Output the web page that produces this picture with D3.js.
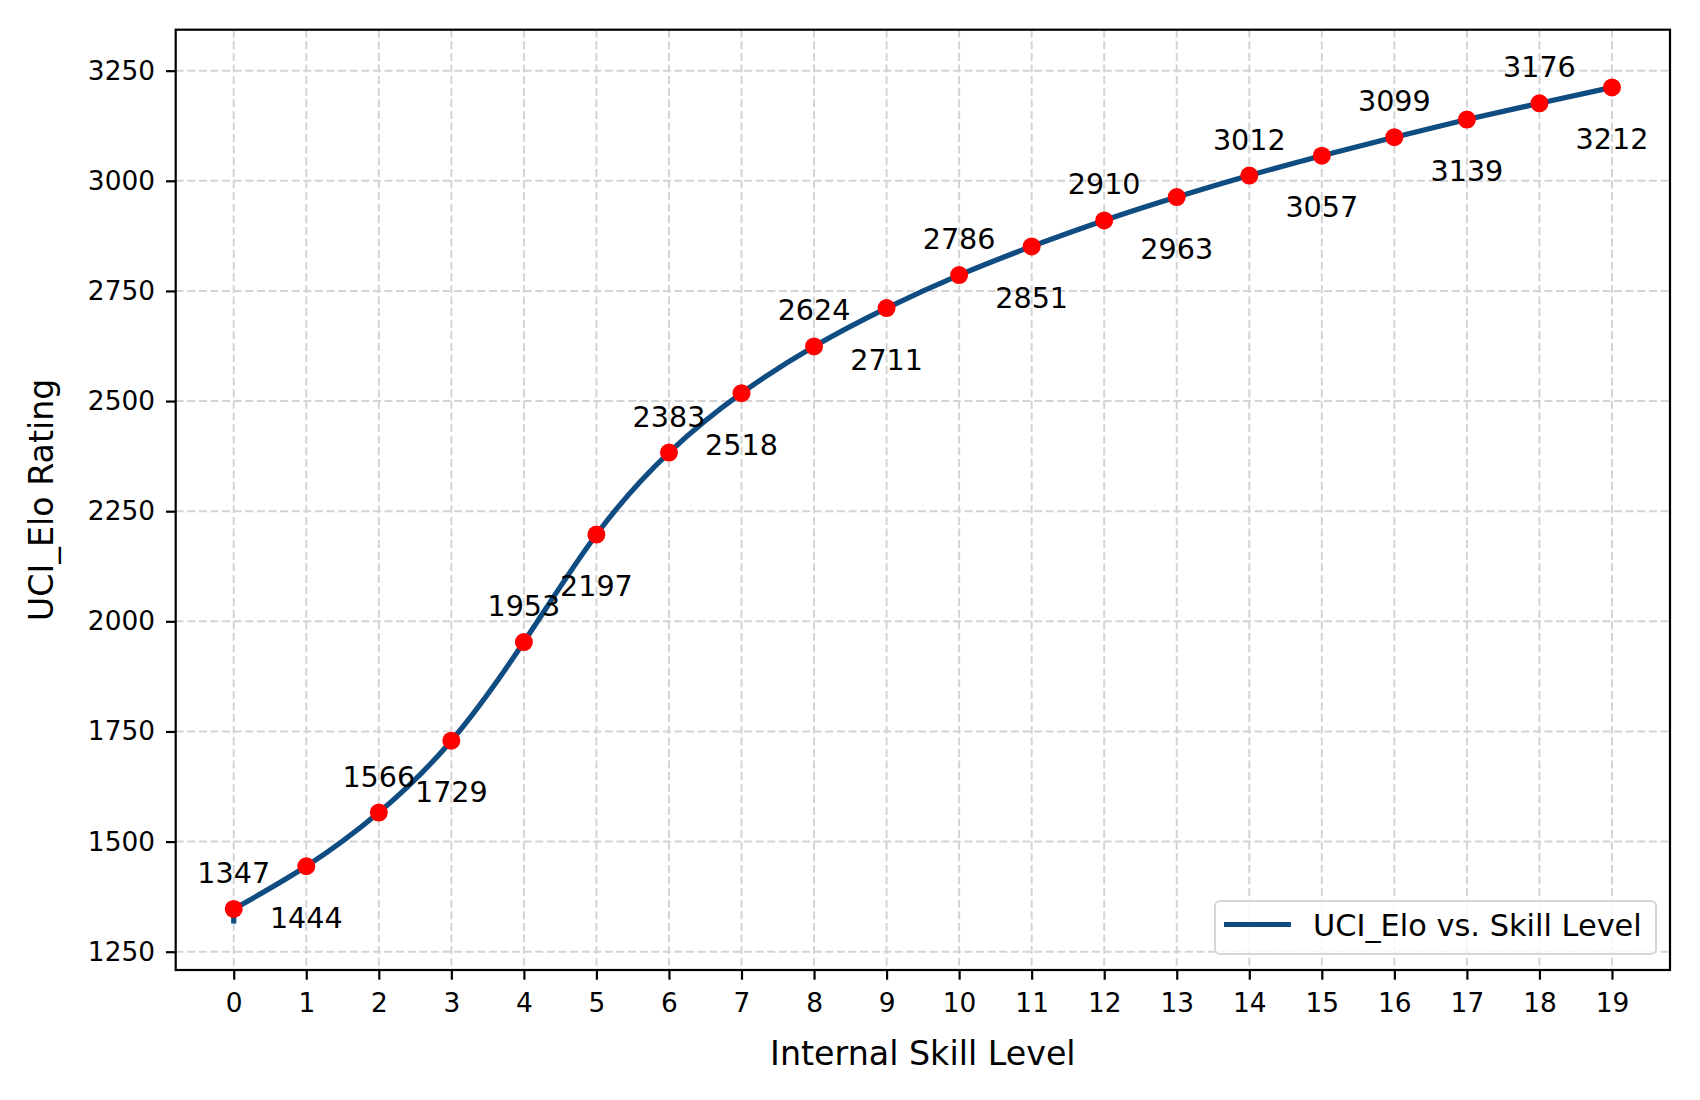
<!DOCTYPE html>
<html>
<head>
<meta charset="utf-8">
<script src="https://cdn.jsdelivr.net/npm/d3@7"></script>
<style>
    body { margin: 0; background: #fff; }
    svg { display: block; font-family: "DejaVu Sans", sans-serif; }
</style>
</head>
<body>
<svg id="chart"></svg>
<script>
// chart data
const skillLevels = d3.range(0, 20);
const eloValues = [1347, 1444, 1566, 1729, 1953, 2197, 2383, 2518, 2624, 2711,
                   2786, 2851, 2910, 2963, 3012, 3057, 3099, 3139, 3176, 3212];
// the drawn curve dips a little below the first point at level 0
const curveTail = [1314, 1347];
const yTicks = [1250, 1500, 1750, 2000, 2250, 2500, 2750, 3000, 3250];
const legendLabel = "UCI_Elo vs. Skill Level";

const W = 1700, H = 1100;
const plot = { left: 175.7, top: 29.7, right: 1670, bottom: 970 };
const colors = { line: "#0f4c81", point: "#ff0000", grid: "#d4d4d4", axis: "#000" };

const svg = d3.select("#chart").attr("width", W).attr("height", H);

const x = d3.scaleLinear().domain([-0.8, 19.8]).range([plot.left, plot.right]);
const y = d3.scaleLinear().domain([1208.5, 3343]).range([plot.bottom, plot.top]);

// grid
const grid = svg.append("g").attr("class", "grid")
    .attr("stroke", colors.grid).attr("stroke-width", 2).attr("stroke-dasharray", "8,3.6");
grid.selectAll(".gx").data(skillLevels).enter().append("line")
    .attr("x1", d => x(d)).attr("x2", d => x(d)).attr("y1", plot.top).attr("y2", plot.bottom);
grid.selectAll(".gy").data(yTicks).enter().append("line")
    .attr("x1", plot.left).attr("x2", plot.right).attr("y1", d => y(d)).attr("y2", d => y(d));

// axes
const xAxis = svg.append("g").attr("transform", `translate(0,${plot.bottom})`)
    .call(d3.axisBottom(x).tickValues(skillLevels).tickFormat(d3.format("d")).tickSizeOuter(0).tickSize(9.7).tickPadding(13.5));
const yAxis = svg.append("g").attr("transform", `translate(${plot.left},0)`)
    .call(d3.axisLeft(y).tickValues(yTicks).tickFormat(d3.format("d")).tickSizeOuter(0).tickSize(9.7).tickPadding(11));
[xAxis, yAxis].forEach(a => {
    a.select(".domain").remove();
    a.selectAll(".tick line").attr("stroke", colors.axis).attr("stroke-width", 2.2);
    a.selectAll(".tick text").attr("fill", colors.axis).style("font-size", "26.4px").style("font-family", "DejaVu Sans");
});

// curve
const line = d3.line().x((d, i) => x(skillLevels[i])).y(d => y(d)).curve(d3.curveNatural);
svg.append("path").datum(curveTail)
    .attr("d", d3.line().x(() => x(skillLevels[0])).y(d => y(d)))
    .attr("stroke", colors.line).attr("stroke-width", 5.2).attr("fill", "none");
svg.append("path").datum(eloValues).attr("d", line)
    .attr("stroke", colors.line).attr("stroke-width", 5.2).attr("fill", "none");

// points
svg.append("g").selectAll("circle").data(eloValues).enter().append("circle")
    .attr("cx", (d, i) => x(skillLevels[i])).attr("cy", d => y(d)).attr("r", 9)
    .attr("fill", colors.point);

// value labels, alternating above / below
svg.append("g").selectAll("text").data(eloValues).enter().append("text")
    .attr("x", (d, i) => x(skillLevels[i]))
    .attr("y", (d, i) => y(d) + (i % 2 === 0 ? -26 : 61.5))
    .attr("text-anchor", "middle").style("font-size", "28.6px").attr("fill", "#000")
    .text(d => d);

// frame
svg.append("rect").attr("x", plot.left).attr("y", plot.top)
    .attr("width", plot.right - plot.left).attr("height", plot.bottom - plot.top)
    .attr("fill", "none").attr("stroke", colors.axis).attr("stroke-width", 2.2);

// axis titles
svg.append("text").attr("x", (plot.left + plot.right) / 2).attr("y", 1065)
    .attr("text-anchor", "middle").style("font-size", "33.3px").text("Internal Skill Level");
svg.append("text").attr("transform", `translate(53,${(plot.top + plot.bottom) / 2}) rotate(-90)`)
    .attr("text-anchor", "middle").style("font-size", "33.3px").text("UCI_Elo Rating");

// legend
const lg = svg.append("g").attr("transform", `translate(1215,901)`);
lg.append("rect").attr("width", 441).attr("height", 53).attr("rx", 5)
    .attr("fill", "rgba(255,255,255,0.8)").attr("stroke", "#d6d6d6").attr("stroke-width", 2);
lg.append("line").attr("x1", 9).attr("x2", 76).attr("y1", 23.5).attr("y2", 23.5)
    .attr("stroke", colors.line).attr("stroke-width", 5.2);
lg.append("text").attr("x", 98).attr("y", 34.5).style("font-size", "30.4px").text(legendLabel);
</script>
</body>
</html>
